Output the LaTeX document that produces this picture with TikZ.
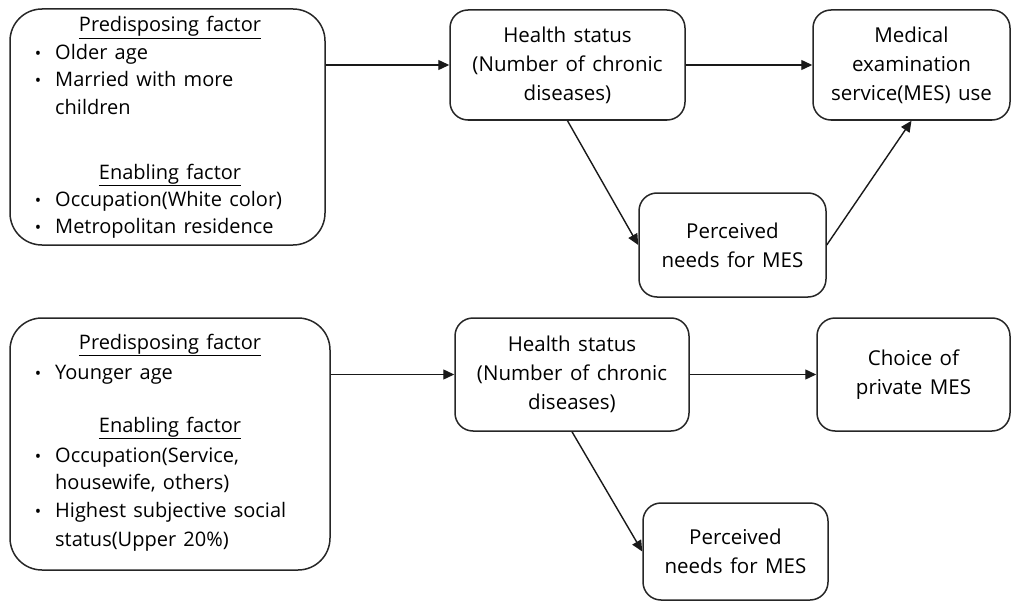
\documentclass[tikz,border=0pt]{standalone}
\usepackage{fontspec}
\setmainfont[WordSpace=1.4]{Open Sans}
\usetikzlibrary{arrows.meta}
\begin{document}
\begin{tikzpicture}[x=1pt,y=-1pt,
 box/.style={draw=black!85, line width=1.5pt, rounded corners=18pt, inner sep=0pt, align=center, font=\fontsize{20.5}{29}\selectfont},
 bigbox/.style={draw=black!85, line width=1.5pt, rounded corners=32pt, inner sep=0pt},
 txt/.style={anchor=base west, inner sep=0pt, font=\fontsize{20}{27}\selectfont},
 hd/.style={anchor=base, inner sep=0pt, font=\fontsize{20}{27}\selectfont},
 bul/.style={anchor=base, inner sep=0pt, font=\fontsize{17}{27}\selectfont},
 arr/.style={line width=1.4pt, draw=black!90, -{Triangle[length=11pt,width=10pt]}}]
\useasboundingbox (0,0) rectangle (1013,602);

% ---------- top row ----------
\node[bigbox, minimum width=315pt, minimum height=236pt] (L1) at (167.5,127) {};
\node[hd] (l1h1) at (170,32) {\underline{Predisposing factor}};
\node[bul] (l1b1) at (38,60) {\textbullet};
\node[txt] (l1t1) at (55,60) {Older age};
\node[bul] (l1b2) at (38,87) {\textbullet};
\node[txt] (l1t2) at (55,87) {Married with more};
\node[txt] (l1t3) at (55,114) {children};
\node[hd] (l1h2) at (170,179) {\underline{Enabling factor}};
\node[bul] (l1b3) at (38,206) {\textbullet};
\node[txt] (l1t4) at (55,206) {Occupation(White color)};
\node[bul] (l1b4) at (38,233) {\textbullet};
\node[txt] (l1t5) at (55,233) {Metropolitan residence};

\node[box, minimum width=235pt, minimum height=110pt] (H1) at (567.5,65) {Health status\\(Number of chronic\\diseases)};
\node[box, minimum width=197pt, minimum height=110pt] (M1) at (911.5,65) {Medical\\examination\\service(MES) use};
\node[box, minimum width=187pt, minimum height=104pt] (P1) at (732.5,245) {Perceived\\needs for MES};

\draw[arr] (L1.east |- H1.west) -- (H1.west);
\draw[arr] (H1.east) -- (M1.west);
\draw[arr] (H1.south) -- (P1.west);
\draw[arr] (P1.east) -- (M1.south);

% ---------- bottom row ----------
\node[bigbox, minimum width=320pt, minimum height=252pt] (L2) at (170,444) {};
\node[hd] (l2h1) at (170,349) {\underline{Predisposing factor}};
\node[bul] (l2b1) at (38,379) {\textbullet};
\node[txt] (l2t1) at (55,379) {Younger age};
\node[hd] (l2h2) at (170,432) {\underline{Enabling factor}};
\node[bul] (l2b2) at (38,462) {\textbullet};
\node[txt] (l2t2) at (55,462) {Occupation(Service,};
\node[txt] (l2t3) at (55,489) {housewife, others)};
\node[bul] (l2b3) at (38,517) {\textbullet};
\node[txt] (l2t4) at (55,517) {Highest subjective social};
\node[txt] (l2t5) at (55,546) {status(Upper 20\%)};

\node[box, minimum width=234pt, minimum height=113pt] (H2) at (572,374.5) {Health status\\(Number of chronic\\diseases)};
\node[box, minimum width=193pt, minimum height=113pt] (C2) at (913.5,374.5) {Choice of\\private MES};
\node[box, minimum width=185pt, minimum height=97pt] (P2) at (735.5,551.5) {Perceived\\needs for MES};

\draw[arr] (L2.east |- H2.west) -- (H2.west);
\draw[arr] (H2.east) -- (C2.west);
\draw[arr] (H2.south) -- (P2.west);
\end{tikzpicture}
\end{document}
